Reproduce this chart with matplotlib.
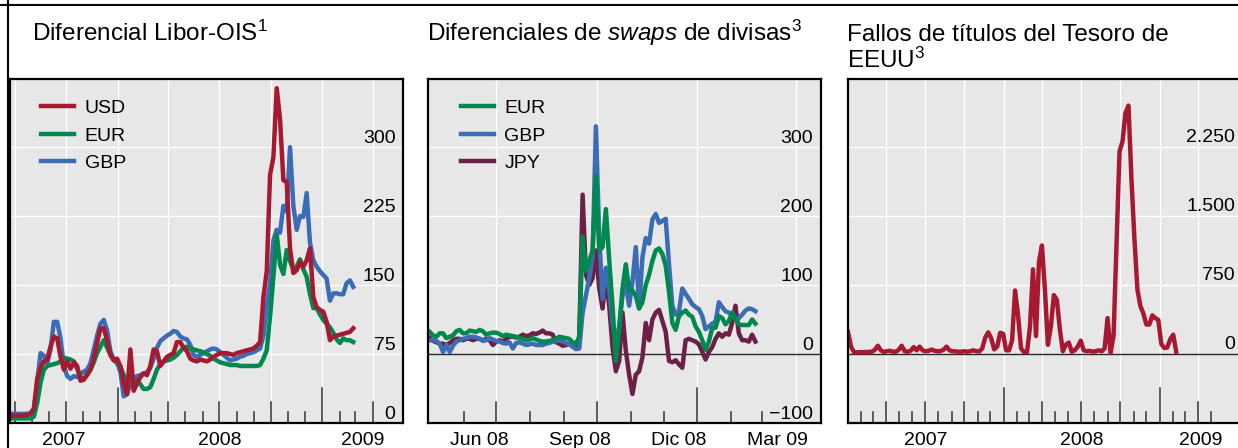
import pandas as pd
import matplotlib
matplotlib.use("Agg")
import matplotlib.pyplot as plt
from matplotlib.lines import Line2D
from matplotlib.transforms import offset_copy, blended_transform_factory

plt.rcParams["font.family"] = ["Liberation Sans", "DejaVu Sans"]
plt.rcParams["mathtext.fontset"] = "custom"
plt.rcParams["mathtext.rm"] = "Liberation Sans"
plt.rcParams["mathtext.it"] = "Liberation Sans:italic"
plt.rcParams["mathtext.default"] = "regular"

RED = "#a71930"
GREEN = "#00894f"
BLUE = "#3c6db4"
MAROON = "#6c2046"
BG = "#e7e7e7"

# ---------------- data ----------------
# Libor-OIS spread, basis points
libor_dates = pd.date_range("2007-06-24", "2009-02-25", periods=104)
libor_usd = [8, 8, 8, 8, 8, 9, 10, 16, 48, 60,
             67, 69, 83, 94, 92, 72, 58, 67, 59, 66,
             62, 46, 47, 53, 58, 70, 87, 103, 103, 90,
             74, 68, 70, 62, 43, 31, 80, 35, 43, 50,
             54, 52, 62, 80, 78, 62, 67, 72, 74, 76,
             88, 88, 82, 78, 70, 68, 67, 69, 68, 67,
             69, 72, 74, 76, 76, 76, 75, 74, 76, 77,
             78, 79, 80, 81, 84, 88, 137, 165, 270, 289,
             364, 330, 264, 262, 190, 163, 166, 175, 170, 177,
             190, 137, 126, 123, 121, 110, 90, 94, 95, 96,
             97, 98, 99, 103]
libor_eur = [5, 5, 5, 5, 5, 5, 5, 7, 22, 44,
             58, 62, 63, 64, 65, 67, 71, 70, 69, 67,
             59, 50, 48, 52, 58, 66, 76, 83, 90, 82,
             74, 69, 65, 61, 52, 44, 42, 46, 47, 42,
             37, 37, 39, 48, 58, 64, 67, 68, 69, 71,
             74, 78, 82, 83, 81, 80, 79, 78, 77, 75,
             73, 70, 68, 66, 65, 64, 63, 63, 63, 62,
             62, 62, 62, 62, 62, 63, 70, 79, 116, 159,
             205, 172, 162, 188, 176, 167, 170, 178, 167, 159,
             140, 125, 125, 118, 112, 108, 104, 98, 91, 87,
             92, 90, 90, 88]
libor_gbp = [10, 10, 10, 10, 10, 10, 11, 15, 45, 76,
             73, 65, 80, 110, 110, 92, 62, 51, 48, 51,
             50, 53, 56, 58, 65, 80, 95, 108, 112, 101,
             78, 69, 66, 55, 29, 32, 42, 49, 51, 52,
             54, 55, 60, 70, 82, 89, 92, 95, 97, 100,
             99, 94, 92, 91, 85, 74, 72, 74, 76, 78,
             80, 81, 80, 77, 74, 71, 68, 69, 70, 72,
             73, 75, 76, 77, 79, 81, 95, 127, 152, 199,
             210, 207, 236, 230, 300, 236, 210, 225, 224, 250,
             196, 177, 170, 165, 161, 157, 133, 141, 141, 140,
             140, 152, 155, 148]

# currency swap spreads, basis points
swap_dates = pd.date_range("2008-05-01", "2009-02-23", periods=99)
swap_eur = [32, 27, 25, 30, 30, 23, 25, 27, 33, 35,
            30, 30, 34, 33, 32, 35, 33, 28, 30, 31,
            31, 29, 26, 28, 27, 26, 25, 23, 22, 20,
            21, 23, 21, 19, 18, 18, 19, 20, 22, 25,
            24, 23, 22, 17, 15, 25, 170, 120, 135, 150,
            258, 150, 155, 210, 137, 70, -10, 35, 95, 130,
            92, 92, 84, 66, 75, 100, 115, 135, 150, 153,
            145, 128, 90, 45, 35, 55, 60, 63, 57, 54,
            40, 32, 20, 6, 18, 38, 38, 55, 52, 43,
            48, 60, 52, 43, 42, 42, 42, 50, 44]
swap_gbp = [20, 20, 19, 15, 3, 13, 3, 12, 18, 20,
            22, 23, 25, 25, 24, 22, 19, 20, 23, 21,
            19, 18, 16, 15, 17, 8, 16, 17, 15, 13,
            14, 15, 13, 13, 13, 15, 16, 18, 19, 20,
            18, 16, 14, 11, 7, 8, 60, 85, 110, 140,
            330, 170, 80, 125, 95, 45, 18, 40, 85, 100,
            70, 105, 155, 66, 140, 168, 160, 195, 203, 190,
            193, 196, 130, 70, 57, 62, 95, 87, 80, 72,
            68, 65, 55, 36, 40, 44, 47, 75, 68, 62,
            60, 58, 51, 52, 57, 63, 66, 65, 62]
swap_jpy = [23, 19, 17, 15, 15, 13, 16, 20, 22, 22,
            20, 22, 22, 20, 22, 22, 20, 22, 20, 13,
            18, 20, 18, 22, 25, 25, 24, 25, 28, 26,
            27, 30, 29, 31, 34, 30, 30, 28, 17, 15,
            12, 13, 15, 11, 8, 25, 231, 115, 100, 110,
            150, 95, 66, 110, 70, 10, -25, -10, 60, 5,
            -30, -58, -30, -25, -5, 45, 20, 50, 60, 64,
            48, 32, -10, -12, -9, -15, -20, 20, 22, 20,
            18, 14, 3, -8, 3, 10, 22, 30, 25, 30,
            28, 45, 70, 30, 20, 20, 18, 28, 18]

# US Treasury settlement fails, weekly, USD bn
fails_dates = pd.date_range("2007-01-01", periods=111, freq="7D")
fails_usd = [240, 80, 20, 18, 20, 20, 22, 22, 25, 45,
             90, 40, 22, 30, 35, 25, 25, 45, 90, 30,
             25, 35, 75, 40, 80, 40, 30, 35, 48, 35,
             30, 32, 45, 80, 40, 30, 28, 25, 25, 30,
             25, 30, 40, 30, 28, 60, 180, 235, 170, 50,
             80, 230, 220, 40, 40, 150, 690, 420, 60, 20,
             20, 300, 920, 195, 1000, 1180, 700, 100, 300, 640,
             590, 270, 30, 100, 125, 25, 40, 80, 145, 40,
             30, 35, 25, 30, 40, 30, 60, 390, 10, 200,
             1200, 2200, 2310, 2620, 2700, 1900, 1250, 700, 520, 440,
             320, 320, 420, 390, 370, 110, 65, 70, 160, 210,
             25]

libor_ticks = [0, 75, 150, 225, 300]
libor_ticklabels = ["0", "75", "150", "225", "300"]
swap_ticks = [-100, 0, 100, 200, 300]
swap_ticklabels = ["\u2212100", "0", "100", "200", "300"]
fails_ticks = [0, 750, 1500, 2250]
fails_ticklabels = ["0", "750", "1.500", "2.250"]

# ---------------- figure ----------------
W, H = 1238, 448
fig = plt.figure(figsize=(W / 100, H / 100), dpi=100)

AX_H = 344
def add_ax(left_px):
    return fig.add_axes([left_px / W, (H - 423) / H, 393 / W, AX_H / H])

ax1 = add_ax(9.5)
ax2 = add_ax(428)
ax3 = add_ax(848)

LW = 3.2

def base(ax, xlim, ylim, ticks, labels, month_ticks, grid_months, zero_line, xoff):
    ax.set_facecolor(BG)
    ax.set_xlim(pd.Timestamp(xlim[0]), pd.Timestamp(xlim[1]))
    ax.set_ylim(*ylim)
    ax.set_xticks([])
    ax.set_yticks([])
    for s in ax.spines.values():
        s.set_linewidth(1.6)
        s.set_color("black")
        s.set_zorder(6)
    for v in ticks:
        if v == ylim[0]:
            continue
        if v == 0 and zero_line:
            ax.axhline(0, color="#2a2a2a", lw=1.0, zorder=2)
        else:
            ax.axhline(v, color="white", lw=1.0, zorder=1)
    for d in grid_months:
        ax.axvline(pd.Timestamp(d), color="white", lw=1.0, zorder=1)
    for d in month_ticks:
        if d.month == 1:
            h = 35
        elif d.month in (4, 7, 10):
            h = 21
        else:
            h = 11
        ax.axvline(d, ymin=0, ymax=h / AX_H, color="#333333", lw=1.1, zorder=2)
    tr = offset_copy(ax.get_yaxis_transform(), fig=fig, x=-xoff, y=4.5, units="dots")
    for v, lab in zip(ticks, labels):
        ax.text(1, v, lab, transform=tr, ha="right", va="baseline",
                fontsize=14, zorder=7)

def xlabels(ax, positions, labels):
    tr = offset_copy(blended_transform_factory(ax.transData, ax.transAxes),
                     fig=fig, x=0, y=-21.5, units="dots")
    for p, lab in zip(positions, labels):
        ax.text(p, 0, lab, transform=tr, ha="center", va="baseline", fontsize=14)

LEG = dict(loc="upper left", frameon=False, fontsize=14, handlelength=1.7,
           handletextpad=0.55, labelspacing=0.5, borderpad=0, borderaxespad=0)

# panel 1
xl1 = ("2007-06-22", "2009-05-24")
base(ax1, xl1, (0, 374), libor_ticks, libor_ticklabels,
     pd.date_range("2007-07-01", "2009-04-01", freq="MS"),
     pd.date_range("2007-07-01", "2009-04-01", freq="QS"), False, 7)
l3 = ax1.plot(libor_dates, libor_gbp, color=BLUE, lw=LW, zorder=3, label="GBP")
l2 = ax1.plot(libor_dates, libor_eur, color=GREEN, lw=LW, zorder=3, label="EUR")
l1 = ax1.plot(libor_dates, libor_usd, color=RED, lw=LW, zorder=3, label="USD")
t0, t1 = pd.Timestamp(xl1[0]), pd.Timestamp(xl1[1])
y08, y09 = pd.Timestamp("2008-01-01"), pd.Timestamp("2009-01-01")
xlabels(ax1, [t0 + (y08 - t0) / 2, y08 + (y09 - y08) / 2, y09 + (t1 - y09) / 2],
        ["2007", "2008", "2009"])
ax1.legend(handles=[l1[0], l2[0], l3[0]], bbox_to_anchor=(0.08, 0.94), **LEG)

# panel 2
xl2 = ("2008-04-29 10:00", "2009-04-24")
base(ax2, xl2, (-100, 398.6), swap_ticks, swap_ticklabels,
     pd.date_range("2008-06-01", "2009-03-01", freq="MS"),
     pd.date_range("2008-07-01", "2009-04-01", freq="QS"), True, 8)
m1 = ax2.plot(swap_dates, swap_jpy, color=MAROON, lw=LW, zorder=3, label="JPY")
m2 = ax2.plot(swap_dates, swap_gbp, color=BLUE, lw=LW, zorder=3, label="GBP")
m3 = ax2.plot(swap_dates, swap_eur, color=GREEN, lw=LW, zorder=3, label="EUR")
xlabels(ax2, pd.to_datetime(["2008-06-15", "2008-09-15", "2008-12-15", "2009-03-15"]),
        ["Jun 08", "Sep 08", "Dic 08", "Mar 09"])
ax2.legend(handles=[m3[0], m2[0], m1[0]], bbox_to_anchor=(0.083, 0.94), **LEG)

# panel 3
xl3 = ("2007-01-01", "2009-07-11")
base(ax3, xl3, (-750, 2989), fails_ticks, fails_ticklabels,
     pd.date_range("2007-02-01", "2009-05-01", freq="MS"),
     pd.date_range("2007-04-01", "2009-04-01", freq="QS"), True, 6)
ax3.plot(fails_dates, fails_usd, color=RED, lw=LW, zorder=3)
t0, t1 = pd.Timestamp(xl3[0]), pd.Timestamp(xl3[1])
xlabels(ax3, [t0 + (y08 - t0) / 2, y08 + (y09 - y08) / 2, y09 + (t1 - y09) / 2],
        ["2007", "2008", "2009"])

# titles
TFS = 17.5
fig.text(32 / W, 1 - 41 / H, "Diferencial Libor-OIS$^{1}$", fontsize=TFS, va="baseline")
fig.text(427 / W, 1 - 41 / H, "Diferenciales de $\\mathit{swaps}$ de divisas$^{3}$",
         fontsize=TFS, va="baseline")
fig.text(847 / W, 1 - 41 / H, "Fallos de títulos del Tesoro de", fontsize=TFS, va="baseline")
fig.text(847 / W, 1 - 68 / H, "EEUU$^{3}$", fontsize=TFS, va="baseline")

# frame lines of the page
fig.add_artist(Line2D([0, 1], [1 - 5 / H] * 2, transform=fig.transFigure,
                      color="black", lw=1.5))
fig.add_artist(Line2D([7.5 / W] * 2, [0, 1], transform=fig.transFigure,
                      color="black", lw=1.5))

fig.savefig("out.png", dpi=100)
